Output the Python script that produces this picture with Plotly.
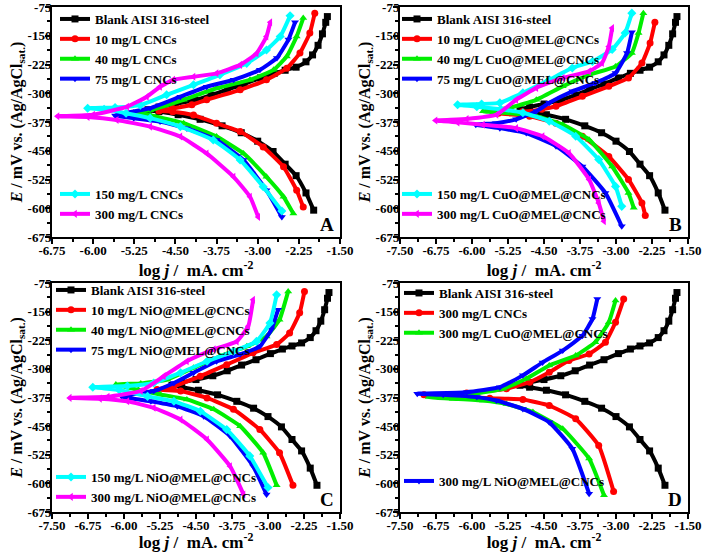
import plotly.graph_objects as go

# ---------------- axis ticks ----------------
XTICK_A = [-6.75, -6.00, -5.25, -4.50, -3.75, -3.00, -2.25, -1.50]
XTICK_A_TEXT = ["-6.75", "-6.00", "-5.25", "-4.50", "-3.75", "-3.00", "-2.25", "-1.50"]
XTICK_BCD = [-7.50, -6.75, -6.00, -5.25, -4.50, -3.75, -3.00, -2.25, -1.50]
XTICK_BCD_TEXT = ["-7.50", "-6.75", "-6.00", "-5.25", "-4.50", "-3.75", "-3.00", "-2.25", "-1.50"]
YTICK = [-675, -600, -525, -450, -375, -300, -225, -150, -75]
YTICK_TEXT = ["-675", "-600", "-525", "-450", "-375", "-300", "-225", "-150", "-75"]

# ---------------- data (log j, E) ----------------
BLANK_LOGJ = [-1.98, -2.12, -2.30, -2.50, -2.72, -3.00, -3.30, -3.65, -4.05, -4.45, -4.80, -5.00,
              -4.80, -4.50, -4.15, -3.85, -3.55, -3.25, -2.95, -2.70, -2.50, -2.30, -2.12, -2.00,
              -1.90, -1.82, -1.76, -1.73]
BLANK_E = [-605, -560, -515, -485, -452, -425, -403, -385, -368, -356, -348, -343,
           -336, -328, -318, -305, -290, -276, -260, -248, -240, -232, -218, -200,
           -175, -145, -115, -100]

# Panel A: CNCs
A10_LOGJ = [-2.17, -2.29, -2.53, -2.90, -3.32, -3.75, -4.17, -4.55, -4.80, -4.55, -4.20, -3.93, -3.32, -2.84, -2.47, -2.23, -2.05, -1.96]
A10_E = [-597, -553, -492, -440, -400, -378, -357, -348, -346, -340, -330, -317, -291, -265, -235, -195, -143, -91]
A40_LOGJ = [-2.35, -2.53, -2.84, -3.26, -3.75, -4.35, -4.96, -5.26, -4.96, -4.35, -3.75, -3.14, -2.71, -2.47, -2.29, -2.17]
A40_E = [-614, -570, -518, -457, -413, -378, -357, -350, -344, -317, -287, -265, -239, -204, -152, -104]
A75_LOGJ = [-2.56, -2.84, -3.26, -3.75, -4.29, -4.78, -5.26, -5.60, -4.96, -4.41, -3.93, -3.44, -2.96, -2.65, -2.44, -2.32]
A75_E = [-623, -553, -474, -422, -392, -374, -365, -358, -339, -309, -283, -265, -239, -208, -160, -115]
A150_LOGJ = [-2.56, -2.90, -3.32, -3.81, -4.41, -4.96, -5.40, -5.80, -6.10, -5.60, -5.14, -4.66, -4.17, -3.69, -3.20, -2.84, -2.59, -2.41]
A150_E = [-607, -544, -474, -422, -387, -365, -352, -342, -339, -337, -331, -304, -278, -252, -222, -187, -152, -98]
A300_LOGJ = [-2.99, -3.14, -3.44, -3.93, -4.41, -4.96, -5.57, -6.10, -6.65, -6.00, -5.38, -5.02, -4.78, -4.54, -4.17, -3.75, -3.32, -3.02, -2.84, -2.77]
A300_E = [-623, -570, -518, -457, -413, -387, -370, -362, -360, -356, -335, -309, -283, -265, -257, -248, -226, -196, -152, -115]

# Panel B: CuO@MEL@CNCs
B10_LOGJ = [-2.39, -2.46, -2.74, -3.15, -3.70, -4.25, -4.80, -5.45, -4.95, -4.55, -4.25, -3.70, -3.15, -2.74, -2.46, -2.29, -2.19]
B10_E = [-619, -586, -525, -465, -412, -378, -360, -352, -348, -342, -334, -308, -282, -260, -221, -169, -115]
B40_LOGJ = [-2.63, -2.74, -3.08, -3.56, -4.11, -4.66, -5.20, -5.77, -5.21, -4.66, -4.11, -3.56, -3.01, -2.67, -2.53, -2.43]
B40_E = [-599, -560, -491, -421, -382, -360, -352, -347, -338, -317, -282, -252, -230, -195, -143, -91]
B75_LOGJ = [-2.88, -3.22, -3.70, -4.25, -4.87, -5.42, -5.92, -5.50, -5.08, -4.66, -4.39, -3.91, -3.43, -3.01, -2.77, -2.67]
B75_E = [-647, -560, -491, -438, -404, -391, -382, -378, -368, -347, -325, -295, -273, -247, -195, -141]
B150_LOGJ = [-2.88, -3.01, -3.36, -3.84, -4.39, -4.94, -5.40, -5.90, -6.30, -5.80, -5.42, -4.94, -4.39, -3.91, -3.49, -3.08, -2.81, -2.67]
B150_E = [-595, -543, -473, -412, -373, -351, -342, -335, -330, -328, -325, -299, -265, -234, -217, -186, -143, -91]
B300_LOGJ = [-3.25, -3.36, -3.56, -3.98, -4.53, -5.08, -5.77, -6.30, -6.76, -6.11, -5.49, -5.08, -4.66, -4.11, -3.56, -3.29, -3.15, -3.08]
B300_E = [-634, -586, -525, -456, -412, -391, -382, -376, -371, -367, -356, -317, -286, -260, -243, -221, -178, -130]

# Panel C: NiO@MEL@CNCs
C10_LOGJ = [-2.48, -2.76, -3.17, -3.72, -4.27, -4.82, -5.31, -4.96, -4.41, -3.86, -3.31, -2.82, -2.55, -2.34, -2.24]
C10_E = [-605, -520, -459, -406, -376, -358, -354, -345, -319, -289, -258, -236, -206, -153, -97]
C40_LOGJ = [-2.82, -3.10, -3.58, -4.13, -4.69, -5.24, -5.70, -6.17, -5.65, -5.10, -4.55, -4.00, -3.44, -3.03, -2.76, -2.58]
C40_E = [-605, -520, -450, -406, -380, -367, -355, -341, -338, -328, -297, -267, -241, -215, -171, -97]
C75_LOGJ = [-3.03, -3.31, -3.79, -4.34, -4.89, -5.44, -6.05, -5.38, -4.96, -4.55, -4.07, -3.58, -3.17, -2.93, -2.79]
C75_E = [-629, -555, -476, -424, -398, -385, -372, -358, -337, -310, -280, -262, -241, -197, -145]
C150_LOGJ = [-3.00, -3.38, -3.86, -4.41, -4.96, -5.51, -6.10, -6.65, -5.93, -5.38, -4.82, -4.27, -3.72, -3.24, -2.96, -2.82]
C150_E = [-611, -528, -459, -411, -385, -372, -355, -348, -345, -337, -310, -280, -254, -228, -180, -106]
C300_LOGJ = [-3.51, -3.79, -4.27, -4.82, -5.38, -5.93, -6.50, -7.13, -6.34, -5.65, -5.17, -4.69, -4.13, -3.65, -3.41, -3.31]
C300_E = [-629, -555, -485, -433, -402, -385, -378, -376, -373, -358, -319, -280, -249, -228, -188, -119]

# Panel D: 300 mg/L comparison
D_CNC_LOGJ = [-3.05, -3.36, -3.84, -4.39, -4.94, -5.63, -6.40, -7.00, -6.11, -5.28, -4.80, -4.39, -3.98, -3.56, -3.22, -3.01, -2.84]
D_CNC_E = [-621, -501, -431, -396, -380, -377, -372, -368, -363, -352, -335, -309, -278, -261, -230, -178, -117]
D_CUO_LOGJ = [-3.25, -3.56, -4.11, -4.73, -5.28, -5.77, -6.40, -6.90, -6.11, -5.35, -4.87, -4.39, -3.84, -3.43, -3.15, -3.01]
D_CUO_E = [-631, -535, -457, -413, -392, -383, -378, -374, -368, -352, -326, -291, -265, -230, -178, -121]
D_NIO_LOGJ = [-3.56, -3.91, -4.39, -4.94, -5.49, -5.90, -6.60, -7.14, -6.11, -5.42, -4.94, -4.53, -4.11, -3.70, -3.49, -3.39]
D_NIO_E = [-627, -509, -440, -405, -383, -374, -368, -365, -361, -348, -317, -283, -252, -213, -169, -117]

LABELS_A = ["Blank AISI 316-steel", "10 mg/L CNCs", "40 mg/L CNCs", "75 mg/L CNCs", "150 mg/L CNCs", "300 mg/L CNCs"]
LABELS_B = ["Blank AISI 316-steel", "10 mg/L CuO@MEL@CNCs", "40 mg/L CuO@MEL@CNCs", "75 mg/L CuO@MEL@CNCs",
            "150 mg/L CuO@MEL@CNCs", "300 mg/L CuO@MEL@CNCs"]
LABELS_C = ["Blank AISI 316-steel", "10 mg/L NiO@MEL@CNCs", "40 mg/L NiO@MEL@CNCs", "75 mg/L NiO@MEL@CNCs",
            "150 mg/L NiO@MEL@CNCs", "300 mg/L NiO@MEL@CNCs"]
LABELS_D = ["Blank AISI 316-steel", "300 mg/L CNCs", "300 mg/L CuO@MEL@CNCs", "300 mg/L NiO@MEL@CNCs"]
PANEL_LETTERS = ["A", "B", "C", "D"]

# ---------------- styling ----------------
FONT = "Liberation Serif"
COLORS = ["#000000", "#ff0000", "#00ee00", "#0000ff", "#00ffff", "#ff00ff"]
SYMBOLS = ["square", "circle", "triangle-up", "triangle-down", "diamond", "triangle-left"]

fig = go.Figure()


def add_curve(x, y, label, ci, axis_idx, legend_name):
    suffix = "" if axis_idx == 1 else str(axis_idx)
    fig.add_trace(go.Scatter(
        x=x, y=y, name=label, mode="lines+markers",
        line=dict(color=COLORS[ci], width=4, shape="spline", smoothing=0.4),
        marker=dict(symbol=SYMBOLS[ci], size=7, color=COLORS[ci], line=dict(width=0)),
        xaxis="x" + suffix, yaxis="y" + suffix, legend=legend_name,
    ))


panelA = [(BLANK_LOGJ, BLANK_E), (A10_LOGJ, A10_E), (A40_LOGJ, A40_E), (A75_LOGJ, A75_E),
          (A150_LOGJ, A150_E), (A300_LOGJ, A300_E)]
panelB = [(BLANK_LOGJ, BLANK_E), (B10_LOGJ, B10_E), (B40_LOGJ, B40_E), (B75_LOGJ, B75_E),
          (B150_LOGJ, B150_E), (B300_LOGJ, B300_E)]
panelC = [(BLANK_LOGJ, BLANK_E), (C10_LOGJ, C10_E), (C40_LOGJ, C40_E), (C75_LOGJ, C75_E),
          (C150_LOGJ, C150_E), (C300_LOGJ, C300_E)]
panelD = [(BLANK_LOGJ, BLANK_E), (D_CNC_LOGJ, D_CNC_E), (D_CUO_LOGJ, D_CUO_E), (D_NIO_LOGJ, D_NIO_E)]

for p, (panel, labels) in enumerate([(panelA, LABELS_A), (panelB, LABELS_B), (panelC, LABELS_C)]):
    top_leg = "legend" if p == 0 else "legend%d" % (2 * p + 1)
    bot_leg = "legend%d" % (2 * p + 2)
    for i, (x, y) in enumerate(panel):
        add_curve(x, y, labels[i], i, p + 1, top_leg if i < 4 else bot_leg)

for i, (x, y) in enumerate(panelD):
    add_curve(x, y, LABELS_D[i], i, 4, "legend7" if i < 3 else "legend8")

W, H = 702, 552
# plot areas in page pixels (left, right, top, bottom)
boxes = [(52, 340, 7, 237), (400, 688, 7, 237), (52, 340, 283, 512), (400, 688, 283, 512)]

tickfont = dict(family=FONT, size=13, color="black", weight="bold")
xtitlefont = dict(family=FONT, size=17, color="black", weight="bold")
ytitlefont = dict(family=FONT, size=16, color="black", weight="bold")

layout = dict(width=W, height=H, margin=dict(l=0, r=0, t=0, b=0, autoexpand=False),
              paper_bgcolor="white", plot_bgcolor="white", showlegend=True)

for k, (l, r, t, b) in enumerate(boxes):
    suffix = "" if k == 0 else str(k + 1)
    xt = XTICK_A if k == 0 else XTICK_BCD
    xtt = XTICK_A_TEXT if k == 0 else XTICK_BCD_TEXT
    xminor = [(xt[i] + xt[i + 1]) / 2 for i in range(len(xt) - 1)]
    yminor = [(YTICK[i] + YTICK[i + 1]) / 2 for i in range(len(YTICK) - 1)]
    layout["xaxis" + suffix] = dict(
        domain=[l / W, r / W], anchor="y" + suffix, range=[xt[0], xt[-1]], automargin=False,
        tickmode="array", tickvals=xt, ticktext=xtt, ticks="outside", ticklen=5, tickwidth=2,
        tickcolor="black", showline=True, linewidth=2, linecolor="black", mirror=True,
        showgrid=False, zeroline=False, tickfont=tickfont, ticklabelstandoff=-5,
        ticklabeloverflow="allow",
        minor=dict(tickmode="array", tickvals=xminor, ticks="outside", ticklen=3, tickwidth=1.5, tickcolor="black"),
        title=dict(text="log <i>j</i> /  mA. cm<sup>-2</sup>", font=xtitlefont, standoff=0),
    )
    layout["yaxis" + suffix] = dict(
        domain=[1 - b / H, 1 - t / H], anchor="x" + suffix, range=[YTICK[0], YTICK[-1]],
        automargin=False,
        tickmode="array", tickvals=YTICK, ticktext=YTICK_TEXT, ticks="outside", ticklen=5, tickwidth=2,
        tickcolor="black", showline=True, linewidth=2, linecolor="black", mirror=True,
        showgrid=False, zeroline=False, tickfont=tickfont, ticklabelstandoff=-9,
        ticklabeloverflow="allow",
        minor=dict(tickmode="array", tickvals=yminor, ticks="outside", ticklen=3, tickwidth=1.5, tickcolor="black"),
        title=dict(text="<i>E</i> / mV vs. (Ag/AgCl<sub>sat.</sub>)", font=ytitlefont, standoff=1),
    )

legfont = dict(family=FONT, size=13, color="black", weight="bold")
# legend top-left corners in page pixels
leg_pos = {
    "legend": (55, 4), "legend2": (55, 179),
    "legend3": (397, 4), "legend4": (397, 179),
    "legend5": (51, 275), "legend6": (51, 462),
    "legend7": (399, 278), "legend8": (399, 466),
}
for name, (lx, ty) in leg_pos.items():
    layout[name] = dict(x=lx / W, y=1 - ty / H, xanchor="left", yanchor="top",
                        bgcolor="rgba(0,0,0,0)", borderwidth=0, font=legfont,
                        itemwidth=30, tracegroupgap=0)

annotations = []
for k, letter in enumerate(PANEL_LETTERS):
    suffix = "" if k == 0 else str(k + 1)
    annotations.append(dict(text=letter, xref="x" + suffix + " domain", yref="y" + suffix + " domain",
                            x=0.985, y=0.0, xanchor="right", yanchor="bottom", showarrow=False,
                            font=dict(family=FONT, size=19, color="black", weight="bold")))
layout["annotations"] = annotations

fig.update_layout(**layout)
# the page body margin is removed so the 702x552 figure fills the window exactly
fig.write_html("out.html", config={"displayModeBar": False},
               post_script="document.body.style.margin='0px';")
